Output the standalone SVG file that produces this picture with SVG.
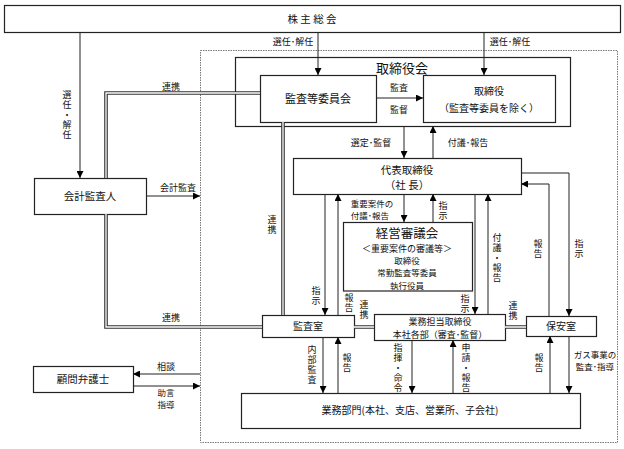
<svg xmlns="http://www.w3.org/2000/svg" width="624" height="449" viewBox="0 0 624 449">
<defs>
<marker id="ah" viewBox="0 0 8 8" refX="8" refY="4" markerWidth="7" markerHeight="7" orient="auto" markerUnits="userSpaceOnUse"><path d="M0,0 L8,4 L0,8 z" fill="#000"/></marker>
<style>
text{font-family:"Noto Sans CJK JP","Noto Sans",sans-serif;fill:#111;text-anchor:middle;}
.box{fill:#fff;stroke:#222;stroke-width:1.2;}
.ar{fill:none;stroke:#222;stroke-width:1;marker-end:url(#ah);}
.dbl{fill:none;stroke:#333;stroke-width:3.6;}
.dbli{fill:none;stroke:#fff;stroke-width:1.3;}
.lb{font-size:9px;}
.v{writing-mode:vertical-rl;font-size:9px;letter-spacing:1px;}
</style>
</defs>
<rect width="624" height="449" fill="#fff"/>
<rect x="200.5" y="50.5" width="417" height="392" fill="none" stroke="#777" stroke-width="1" stroke-dasharray="1.5,1"/>

<g id="kabunushi"><rect class="box" x="4.5" y="5.5" width="616" height="27"/><text x="312" y="23" font-size="10.5">株 主 総 会</text></g>
<g id="torishimariyakukai"><rect class="box" x="235.5" y="57.5" width="335" height="69"/><text x="402" y="73" font-size="13">取締役会</text></g>
<g id="kansa-iinkai"><rect class="box" x="260.5" y="75.5" width="116" height="47"/><text x="318" y="103" font-size="11">監査等委員会</text></g>
<g id="torishimariyaku"><rect class="box" x="423.5" y="75.5" width="132" height="47"/><text font-size="10"><tspan x="489" y="95">取締役</tspan><tspan x="489" y="112">（監査等委員を除く）</tspan></text></g>
<g id="kaikei"><rect class="box" x="34.5" y="178.5" width="112" height="36"/><text x="90" y="200" font-size="10.5">会計監査人</text></g>
<g id="daihyo"><rect class="box" x="293.5" y="158.5" width="228" height="36"/><text font-size="10.5"><tspan x="407" y="174">代表取締役</tspan><tspan x="407" y="189">（社 長）</tspan></text></g>
<g id="keiei"><rect class="box" x="343.5" y="222.5" width="129" height="68.5"/><text font-size="8.5"><tspan x="407" y="237.5" font-size="12.5">経営審議会</tspan><tspan x="407" y="251.5" font-size="9">＜重要案件の審議等＞</tspan><tspan x="407" y="264">取締役</tspan><tspan x="407" y="276.4">常勤監査等委員</tspan><tspan x="407" y="288.7">執行役員</tspan></text></g>
<g id="kansashitsu"><rect class="box" x="262.5" y="315.5" width="92" height="22"/><text x="308" y="330" font-size="10">監査室</text></g>
<g id="gyomutanto"><rect class="box" x="374.5" y="314.5" width="131" height="26"/><text font-size="9"><tspan x="440" y="324.6">業務担当取締役</tspan><tspan x="440" y="337.7">本社各部（審査･監督）</tspan></text></g>
<g id="hoanshitsu"><rect class="box" x="526.5" y="316.5" width="70" height="20"/><text x="561" y="330" font-size="10">保安室</text></g>
<g id="gyomubumon"><rect class="box" x="241.5" y="393.5" width="339" height="35"/><text x="410" y="414" font-size="10">業務部門(本社、支店、営業所、子会社)</text></g>
<g id="komon"><rect class="box" x="33.5" y="366.5" width="100" height="26"/><text x="83" y="383" font-size="10.5">顧問弁護士</text></g>

<g id="connectors">
<path class="ar" d="M80,32 V178"/>
<path class="ar" d="M318,32 V75"/>
<path class="ar" d="M484,32 V75"/>
<path class="ar" d="M377,98 H423"/>
<path class="ar" d="M404,126 V158"/>
<path class="ar" d="M433,158 V126"/>
<path class="ar" d="M146,196 H200"/>
<path class="dbl" d="M260,93 H106 V178 M106,214 V327 H262 M283,122 V315 M354,327 H374 M505,327 H526"/>
<path class="dbli" d="M260,93 H106 V178 M106,214 V327 H262 M283,122 V315 M354,327 H374 M505,327 H526"/>
<path class="ar" d="M521,173 H569 V316"/>
<path class="ar" d="M549,316 V184 H521"/>
<path class="ar" d="M325,194 V315"/>
<path class="ar" d="M338,315 V194"/>
<path class="ar" d="M404,194 V222"/>
<path class="ar" d="M433,222 V194"/>
<path class="ar" d="M475,194 V314"/>
<path class="ar" d="M488,314 V194"/>
<path class="ar" d="M323,337 V393"/>
<path class="ar" d="M338,393 V337"/>
<path class="ar" d="M412,340 V393"/>
<path class="ar" d="M453,393 V340"/>
<path class="ar" d="M550,393 V336"/>
<path class="ar" d="M569,336 V393"/>
<path class="ar" d="M200,374 H133"/>
<path class="ar" d="M133,386 H200"/>
</g>

<g id="labels" class="lb">
<text x="293" y="45">選任･解任</text>
<text x="510" y="45">選任･解任</text>
<text class="v" x="67" y="115">選任・解任</text>
<text x="171" y="90">連携</text>
<text x="178" y="191">会計監査</text>
<text x="399" y="91">監査</text>
<text x="399" y="113">監督</text>
<text x="371" y="146">選定･監督</text>
<text x="468" y="146">付議･報告</text>
<text font-size="8.5"><tspan x="372" y="207">重要案件の</tspan><tspan x="370" y="219.4">付議･報告</tspan></text>
<text class="v" x="443" y="211">指示</text>
<text class="v" x="272" y="225">連携</text>
<text class="v" x="316" y="296">指示</text>
<text class="v" x="349" y="303">報告</text>
<text class="v" x="364" y="310">連携</text>
<text class="v" x="465" y="304">指示</text>
<text class="v" x="497" y="258">付議・報告</text>
<text class="v" x="513" y="311">連携</text>
<text class="v" x="538" y="249">報告</text>
<text class="v" x="579" y="249">指示</text>
<text x="171" y="321">連携</text>
<text class="v" x="312" y="365">内部監査</text>
<text class="v" x="347" y="363">報告</text>
<text class="v" x="398" y="368">指揮・命令</text>
<text class="v" x="466" y="368">申請・報告</text>
<text class="v" x="539" y="363">報告</text>
<text font-size="8.5"><tspan x="595" y="358">ガス事業の</tspan><tspan x="595" y="370.4">監査･指導</tspan></text>
<text x="166" y="370">相談</text>
<text font-size="8.5"><tspan x="166" y="396">助言</tspan><tspan x="166" y="408.4">指導</tspan></text>
</g>
</svg>
